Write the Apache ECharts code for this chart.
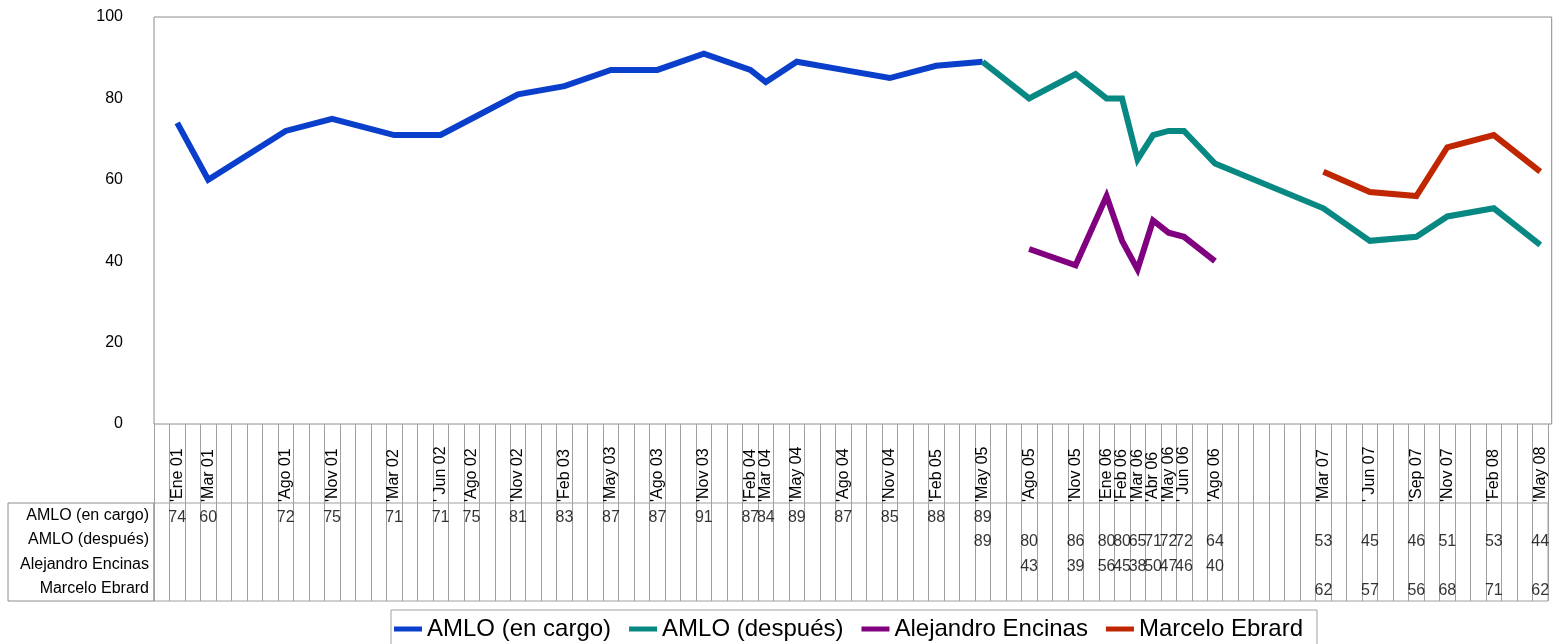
<!DOCTYPE html>
<html>
<head>
<meta charset="utf-8">
<script src="https://cdn.jsdelivr.net/npm/echarts@6/dist/echarts.min.js"></script>
<style>
html,body{margin:0;padding:0;background:#fff;}
#chart{width:1558px;height:644px;}
</style>
</head>
<body>
<div id="chart"></div>
<script>
const months = [
'Dic 00',
'Ene 01','Feb 01','Mar 01','Abr 01','May 01','Jun 01','Jul 01','Ago 01','Sep 01','Oct 01','Nov 01','Dic 01',
'Ene 02','Feb 02','Mar 02','Abr 02','May 02','Jun 02','Jul 02','Ago 02','Sep 02','Oct 02','Nov 02','Dic 02',
'Ene 03','Feb 03','Mar 03','Abr 03','May 03','Jun 03','Jul 03','Ago 03','Sep 03','Oct 03','Nov 03','Dic 03',
'Ene 04','Feb 04','Mar 04','Abr 04','May 04','Jun 04','Jul 04','Ago 04','Sep 04','Oct 04','Nov 04','Dic 04',
'Ene 05','Feb 05','Mar 05','Abr 05','May 05','Jun 05','Jul 05','Ago 05','Sep 05','Oct 05','Nov 05','Dic 05',
'Ene 06','Feb 06','Mar 06','Abr 06','May 06','Jun 06','Jul 06','Ago 06','Sep 06','Oct 06','Nov 06','Dic 06',
'Ene 07','Feb 07','Mar 07','Abr 07','May 07','Jun 07','Jul 07','Ago 07','Sep 07','Oct 07','Nov 07','Dic 07',
'Ene 08','Feb 08','Mar 08','Abr 08','May 08'
];

const seriesNames = ['AMLO (en cargo)', 'AMLO (después)', 'Alejandro Encinas', 'Marcelo Ebrard'];
const seriesColors = ['#0a3fcb', '#078883', '#800080', '#c02600'];

const amloCargo = [['Ene 01',74],['Mar 01',60],['Ago 01',72],['Nov 01',75],['Mar 02',71],['Jun 02',71],['Ago 02',75],['Nov 02',81],['Feb 03',83],['May 03',87],['Ago 03',87],['Nov 03',91],['Feb 04',87],['Mar 04',84],['May 04',89],['Ago 04',87],['Nov 04',85],['Feb 05',88],['May 05',89]];
const amloDespues = [['May 05',89],['Ago 05',80],['Nov 05',86],['Ene 06',80],['Feb 06',80],['Mar 06',65],['Abr 06',71],['May 06',72],['Jun 06',72],['Ago 06',64],['Mar 07',53],['Jun 07',45],['Sep 07',46],['Nov 07',51],['Feb 08',53],['May 08',44]];
const encinas = [['Ago 05',43],['Nov 05',39],['Ene 06',56],['Feb 06',45],['Mar 06',38],['Abr 06',50],['May 06',47],['Jun 06',46],['Ago 06',40]];
const ebrard = [['Mar 07',62],['Jun 07',57],['Sep 07',56],['Nov 07',68],['Feb 08',71],['May 08',62]];

const yTicks = [0, 20, 40, 60, 80, 100];

const allSeries = [amloCargo, amloDespues, encinas, ebrard];
const labeled = new Set();
allSeries.forEach(s => s.forEach(p => labeled.add(p[0])));

const tableData = [];
allSeries.forEach((s, i) => s.forEach(p => tableData.push([p[0], seriesNames[i], p[1]])));

const FONT = "'Liberation Sans', Arial, sans-serif";
const NARROW = "'Liberation Sans Narrow', 'Liberation Sans', Arial, sans-serif";
const lineGray = '#8c8c8c';
const cellGray = '#a0a0a0';

const L = 154, W = 1394;

const chart = echarts.init(document.getElementById('chart'), null, {renderer: 'canvas'});
const option = {
  animation: false,
  backgroundColor: '#fff',
  textStyle: {fontFamily: FONT},
  grid: [
    {left: L, top: 17, width: W, height: 407, show: false, outerBoundsMode: 'none', containLabel: false},
    {left: L, top: 503, width: W, height: 98, show: true, borderColor: cellGray, borderWidth: 1, backgroundColor: 'transparent', outerBoundsMode: 'none', containLabel: false},
    {left: L, top: 17, width: 1397.7, height: 407, show: true, borderColor: lineGray, borderWidth: 1, backgroundColor: 'transparent', outerBoundsMode: 'none', containLabel: false},
    {left: 8, top: 503, width: 146, height: 98, show: true, borderColor: lineGray, borderWidth: 1, backgroundColor: 'transparent', outerBoundsMode: 'none', containLabel: false}
  ],
  legend: {
    data: seriesNames,
    left: 391, top: 610,
    orient: 'horizontal',
    icon: 'rect',
    itemWidth: 28, itemHeight: 5,
    itemGap: 18,
    padding: [7, 14, 30, 3],
    borderColor: '#a0a0a0', borderWidth: 1,
    textStyle: {fontSize: 24, color: '#000', fontFamily: FONT},
    selectedMode: false
  },
  xAxis: [
    {
      type: 'category', gridIndex: 0, data: months, boundaryGap: true,
      axisLine: {show: false},
      axisTick: {show: true, interval: 0, length: 79, inside: false, lineStyle: {color: cellGray, width: 1}},
      axisLabel: {
        show: true, interval: 0, rotate: 90, margin: 78,
        align: 'left', verticalAlign: 'middle',
        fontSize: 16, color: '#000', fontFamily: FONT,
        formatter: v => labeled.has(v) ? (v.indexOf('Jun') === 0 ? "' " + v : "'" + v) : ''
      },
      splitLine: {show: false}
    },
    {
      type: 'category', gridIndex: 1, data: months, boundaryGap: true,
      axisLine: {show: false}, axisTick: {show: false}, axisLabel: {show: false},
      splitLine: {show: true, interval: 0, lineStyle: {color: cellGray, width: 1}}
    }
  ],
  yAxis: [
    {
      type: 'value', gridIndex: 0, min: 0, max: 100, interval: 20,
      axisLine: {show: false}, axisTick: {show: false},
      splitLine: {show: false},
      axisLabel: {margin: 31, fontSize: 16, color: '#000', fontFamily: FONT, padding: [3, 0, 0, 0],
        formatter: v => yTicks.indexOf(v) >= 0 ? String(v) : ''}
    },
    {
      type: 'category', gridIndex: 1, data: seriesNames, inverse: true,
      axisLine: {show: false}, axisTick: {show: false}, splitLine: {show: false},
      axisLabel: {margin: 5, fontSize: 16, color: '#000', fontFamily: FONT, padding: [5, 0, 0, 0]}
    }
  ],
  series: [
    ...allSeries.map((s, i) => ({
      name: seriesNames[i], type: 'line', xAxisIndex: 0, yAxisIndex: 0,
      data: s, showSymbol: false, symbol: 'none', silent: true,
      color: seriesColors[i],
      lineStyle: {width: 6, color: seriesColors[i], join: 'miter', cap: 'butt'},
      z: 3 + i
    })),
    {
      name: 'tabla', type: 'scatter', xAxisIndex: 1, yAxisIndex: 1,
      data: tableData, symbolSize: 1, silent: true,
      itemStyle: {color: 'rgba(0,0,0,0)'},
      label: {show: true, position: 'inside', offset: [0, 2], formatter: p => String(p.value[2]),
        fontSize: 16, color: '#000', fontFamily: NARROW}
    }
  ]
};
chart.setOption(option);
</script>
</body>
</html>
